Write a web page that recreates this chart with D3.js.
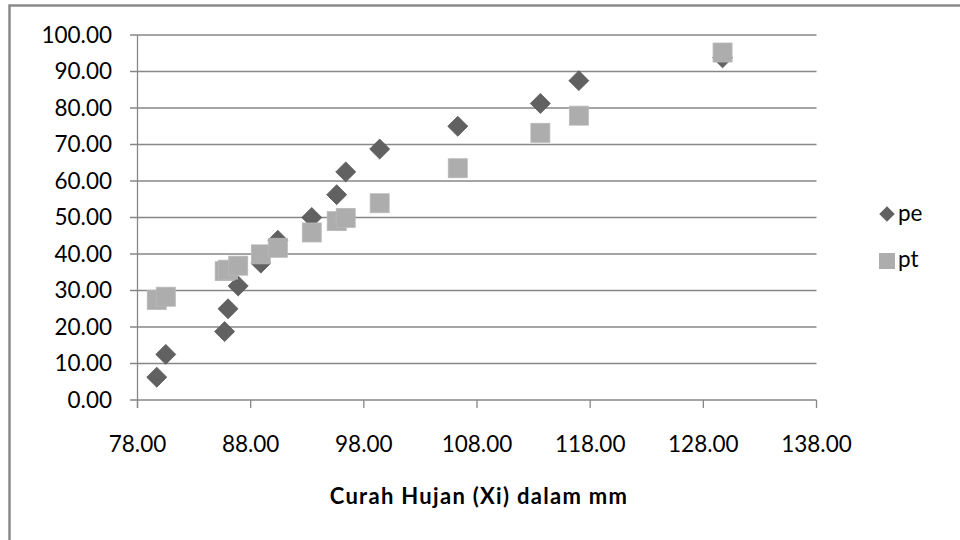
<!DOCTYPE html>
<html>
<head>
<meta charset="utf-8">
<script src="https://cdn.jsdelivr.net/npm/d3@7"></script>
<style>
  html, body { margin: 0; padding: 0; background: #fff; }
  svg { display: block; }
  text { font-family: Lato, "Open Sans", "Liberation Sans", sans-serif; fill: #000; }
</style>
</head>
<body>
<svg id="chart" width="960" height="540"></svg>
<script>
// Curah hujan (mm) and the two probability series
const rainfall = [79.7, 80.5, 85.7, 86.0, 86.9, 88.9, 90.4, 93.4, 95.6, 96.4, 99.4, 106.3, 113.6, 117.0, 129.7];
const peValues = [6.25, 12.5, 18.75, 25.0, 31.25, 37.5, 43.75, 50.0, 56.25, 62.5, 68.75, 75.0, 81.25, 87.5, 93.75];
const ptValues = [27.4, 28.3, 35.3, 35.7, 36.8, 39.9, 41.7, 45.9, 49.0, 49.9, 53.9, 63.5, 73.2, 77.9, 95.2];
const xTicks = [78, 88, 98, 108, 118, 128, 138];
const yTicks = [0, 10, 20, 30, 40, 50, 60, 70, 80, 90, 100];
const seriesNames = ["pe", "pt"];
const xTitle = "Curah Hujan (Xi) dalam mm";

const svg = d3.select("#chart");
const fmt = d3.format(".2f");

// outer chart frame
svg.append("rect")
  .attr("x", 9.5).attr("y", 5.5)
  .attr("width", 990).attr("height", 600)
  .attr("fill", "none").attr("stroke", "#8a8a8a").attr("stroke-width", 2.5);

const x = d3.scaleLinear().domain([78, 138]).range([137.5, 816.5]);
const y = d3.scaleLinear().domain([0, 100]).range([400, 35]);

const gridColor = "#878787";

// horizontal gridlines (including the ticks left of the axis)
svg.append("g").selectAll("line").data(yTicks).join("line")
  .attr("x1", 130).attr("x2", x(138))
  .attr("y1", d => y(d)).attr("y2", d => y(d))
  .attr("stroke", gridColor).attr("stroke-width", 1.3);

// y axis line
svg.append("line")
  .attr("x1", x(78)).attr("x2", x(78))
  .attr("y1", y(100)).attr("y2", y(0) + 8)
  .attr("stroke", gridColor).attr("stroke-width", 1.3);

// x tick marks
svg.append("g").selectAll("line").data(xTicks).join("line")
  .attr("x1", d => x(d)).attr("x2", d => x(d))
  .attr("y1", y(0)).attr("y2", y(0) + 8)
  .attr("stroke", gridColor).attr("stroke-width", 1.3);

// y tick labels
svg.append("g").selectAll("text").data(yTicks).join("text")
  .attr("x", 112).attr("y", d => y(d) + 7.8)
  .attr("text-anchor", "end")
  .attr("font-size", 22.5)
  .text(d => fmt(d));

// x tick labels
svg.append("g").selectAll("text").data(xTicks).join("text")
  .attr("x", d => x(d)).attr("y", 452)
  .attr("text-anchor", "middle")
  .attr("font-size", 22.5)
  .text(d => fmt(d));

// axis title
svg.append("text")
  .attr("x", 479).attr("y", 504)
  .attr("text-anchor", "middle")
  .attr("font-size", 22).attr("font-weight", "bold")
  .attr("letter-spacing", 1.3)
  .text(xTitle);

const diamond = d3.symbol().type(d3.symbolSquare).size(200);

// pe series: dark diamonds
svg.append("g").selectAll("path").data(peValues).join("path")
  .attr("transform", (d, i) => `translate(${x(rainfall[i])},${y(d)}) rotate(45)`)
  .attr("d", diamond)
  .attr("fill", "#616161").attr("stroke", "#5a5a5a").attr("stroke-width", 0.8);

// pt series: light squares
const sq = 19;
svg.append("g").selectAll("rect").data(ptValues).join("rect")
  .attr("x", (d, i) => x(rainfall[i]) - sq / 2)
  .attr("y", d => y(d) - sq / 2)
  .attr("width", sq).attr("height", sq)
  .attr("fill", "#adadad").attr("stroke", "#b8b8b8").attr("stroke-width", 0.8);

// legend
const legend = svg.append("g");
legend.append("path")
  .attr("transform", "translate(887,214) rotate(45)")
  .attr("d", d3.symbol().type(d3.symbolSquare).size(120))
  .attr("fill", "#616161");
legend.append("rect")
  .attr("x", 879).attr("y", 253).attr("width", 16).attr("height", 16)
  .attr("fill", "#adadad");
legend.selectAll("text").data(seriesNames).join("text")
  .attr("x", 898).attr("y", (d, i) => 221 + i * 46)
  .attr("font-size", 22.5)
  .text(d => d);
</script>
</body>
</html>
